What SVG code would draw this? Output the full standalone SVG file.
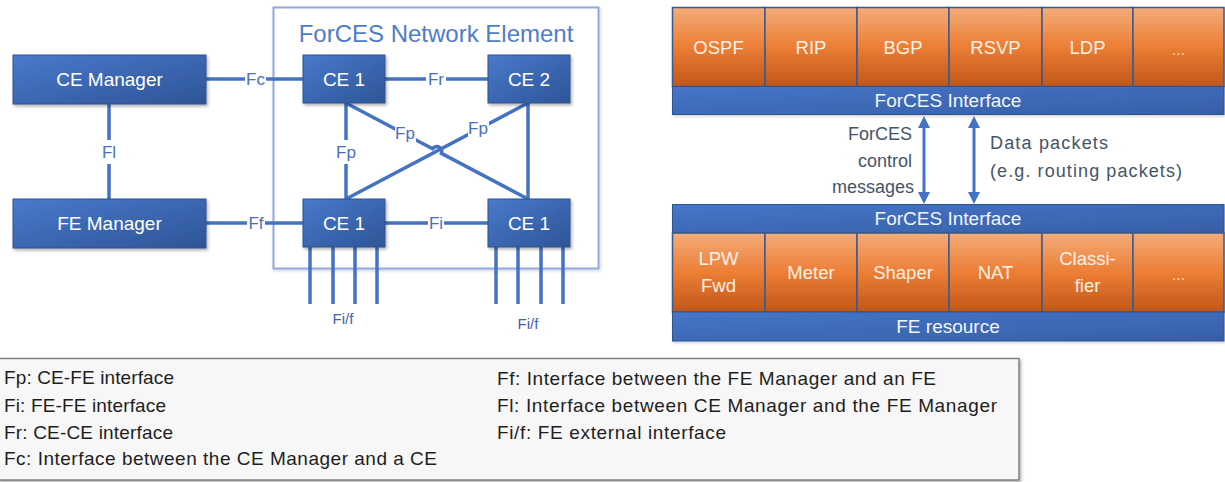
<svg xmlns="http://www.w3.org/2000/svg" width="1225" height="482" viewBox="0 0 1225 482">
  <defs>
    <linearGradient id="gBlue" x1="0" y1="0" x2="1" y2="1">
      <stop offset="0" stop-color="#4a79cb"/>
      <stop offset="1" stop-color="#2e5597"/>
    </linearGradient>
    <linearGradient id="gOrange" x1="0" y1="0" x2="0" y2="1">
      <stop offset="0" stop-color="#f4ac7b"/>
      <stop offset="0.5" stop-color="#ec7e34"/>
      <stop offset="1" stop-color="#c0561a"/>
    </linearGradient>
    <linearGradient id="gBar" x1="0" y1="0" x2="1" y2="1">
      <stop offset="0" stop-color="#4675c8"/>
      <stop offset="1" stop-color="#365fa6"/>
    </linearGradient>
    <filter id="shadow" x="-10%" y="-10%" width="130%" height="140%">
      <feDropShadow dx="1.5" dy="2" stdDeviation="1.5" flood-color="#000" flood-opacity="0.3"/>
    </filter>
    <filter id="softShadow" x="-5%" y="-5%" width="110%" height="115%">
      <feDropShadow dx="1" dy="1.5" stdDeviation="1.5" flood-color="#000" flood-opacity="0.18"/>
    </filter>
    <marker id="arr" viewBox="0 0 12 12" refX="3" refY="6" markerWidth="12" markerHeight="12" markerUnits="userSpaceOnUse" orient="auto-start-reverse">
      <path d="M0,0 L12,6 L0,12 z" fill="#4472c4"/>
    </marker>
  </defs>
  <style>
    text { font-family: "Liberation Sans", Arial, sans-serif; }
    .node rect { fill: url(#gBlue); stroke: #2f528f; stroke-width: 1; filter: url(#shadow); }
    .ntext { font-size: 19px; fill: #ffffff; text-anchor: middle; dominant-baseline: central; }
    .link { stroke: #4472c4; stroke-width: 3.5; fill: none; }
    .port { stroke: #4472c4; stroke-width: 3.5; }
    .lbl { font-size: 17px; fill: #4a6fc0; text-anchor: middle; dominant-baseline: central; }
    .lblbg { fill: #ffffff; }
    .small { font-size: 15px; fill: #3f63ad; text-anchor: middle; dominant-baseline: central; }
    .title { font-size: 24px; fill: #4f7cc8; text-anchor: middle; dominant-baseline: central; }
    .ora { fill: url(#gOrange); stroke: #3b5a8f; stroke-width: 1.5; }
    .bar { fill: url(#gBar); stroke: #2f528f; stroke-width: 1; }
    .otext { font-size: 18.5px; fill: #fdf1e7; text-anchor: middle; dominant-baseline: central; }
    .dots { font-size: 16px; fill: #f7d2b6; text-anchor: middle; dominant-baseline: central; }
    .btext { font-size: 19px; fill: #f2f5fb; text-anchor: middle; dominant-baseline: central; }
    .note { font-size: 18px; fill: #44546a; dominant-baseline: central; }
    .arrow { stroke: #4472c4; stroke-width: 3; marker-start: url(#arr); marker-end: url(#arr); }
    .legend { font-size: 19px; fill: #1e1e1e; dominant-baseline: central; }
  </style>

  <!-- ForCES network element container -->
  <g id="ne-container">
    <rect x="273.5" y="7.5" width="325" height="261" fill="#ffffff" stroke="#8faadc" stroke-width="2" filter="url(#softShadow)"/>
    <text class="title" x="436" y="33">ForCES Network Element</text>
  </g>

  <!-- connectors -->
  <g id="connectors">
    <line class="link" x1="109" y1="104" x2="109" y2="199"/>
    <line class="link" x1="206" y1="79" x2="303" y2="79"/>
    <line class="link" x1="206" y1="223" x2="303" y2="223"/>
    <line class="link" x1="385" y1="79" x2="488" y2="79"/>
    <line class="link" x1="385" y1="223" x2="488" y2="223"/>
    <line class="link" x1="346" y1="103" x2="346" y2="199"/>
    <line class="link" x1="528" y1="103" x2="528" y2="199"/>
    <line class="link" x1="528" y1="103" x2="346" y2="199"/>
    <path class="link" d="M346,103 L432.6,148.7 A5,5 0 0 1 441.4,153.3 L528,199"/>
    <!-- external FE ports -->
    <line class="port" x1="310" y1="247" x2="310" y2="304"/>
    <line class="port" x1="333" y1="247" x2="333" y2="304"/>
    <line class="port" x1="355" y1="247" x2="355" y2="304"/>
    <line class="port" x1="377" y1="247" x2="377" y2="304"/>
    <line class="port" x1="496" y1="247" x2="496" y2="304"/>
    <line class="port" x1="518" y1="247" x2="518" y2="304"/>
    <line class="port" x1="541" y1="247" x2="541" y2="304"/>
    <line class="port" x1="563" y1="247" x2="563" y2="304"/>

    <!-- interface labels -->
    <rect class="lblbg" x="99" y="140" width="20" height="24"/>
    <text class="lbl" x="109" y="152">Fl</text>
    <rect class="lblbg" x="245" y="70" width="21" height="18"/>
    <text class="lbl" x="255.5" y="79">Fc</text>
    <rect class="lblbg" x="247" y="214" width="18" height="18"/>
    <text class="lbl" x="256" y="223">Ff</text>
    <rect class="lblbg" x="426" y="70" width="20" height="18"/>
    <text class="lbl" x="436" y="79">Fr</text>
    <rect class="lblbg" x="428" y="214" width="16" height="18"/>
    <text class="lbl" x="436" y="223">Fi</text>
    <rect class="lblbg" x="335" y="140" width="22" height="24"/>
    <text class="lbl" x="346" y="152">Fp</text>
    <rect class="lblbg" x="395" y="124" width="21" height="18"/>
    <text class="lbl" x="405" y="133">Fp</text>
    <rect class="lblbg" x="468" y="119" width="21" height="18"/>
    <text class="lbl" x="478" y="128">Fp</text>
    <text class="small" x="343" y="318">Fi/f</text>
    <text class="small" x="528" y="323">Fi/f</text>
  </g>

  <!-- managers -->
  <g id="ce-manager" class="node">
    <rect x="13" y="55" width="193" height="49"/>
    <text class="ntext" x="109.5" y="79.5">CE Manager</text>
  </g>
  <g id="fe-manager" class="node">
    <rect x="13" y="199" width="193" height="49"/>
    <text class="ntext" x="109.5" y="223.5">FE Manager</text>
  </g>

  <!-- control and forwarding elements -->
  <g id="ce1-top" class="node">
    <rect x="303" y="55" width="82" height="48"/>
    <text class="ntext" x="344" y="79">CE 1</text>
  </g>
  <g id="ce2-top" class="node">
    <rect x="488" y="55" width="82" height="48"/>
    <text class="ntext" x="529" y="79">CE 2</text>
  </g>
  <g id="fe-left" class="node">
    <rect x="303" y="199" width="82" height="48"/>
    <text class="ntext" x="344" y="223">CE 1</text>
  </g>
  <g id="fe-right" class="node">
    <rect x="488" y="199" width="82" height="48"/>
    <text class="ntext" x="529" y="223">CE 1</text>
  </g>

  <!-- control element protocol stack -->
  <g id="ce-stack" filter="url(#softShadow)">
    <rect class="ora" x="672.5" y="7.5" width="92.5" height="79"/>
    <rect class="ora" x="765" y="7.5" width="92" height="79"/>
    <rect class="ora" x="857" y="7.5" width="92" height="79"/>
    <rect class="ora" x="949" y="7.5" width="93" height="79"/>
    <rect class="ora" x="1042" y="7.5" width="91" height="79"/>
    <rect class="ora" x="1133" y="7.5" width="91" height="79"/>
    <rect class="bar" x="672.5" y="86.5" width="551.5" height="28"/>
  </g>
  <g id="ce-stack-labels">
    <text class="otext" x="718.5" y="47">OSPF</text>
    <text class="otext" x="811" y="47">RIP</text>
    <text class="otext" x="903" y="47">BGP</text>
    <text class="otext" x="995.5" y="47">RSVP</text>
    <text class="otext" x="1087.5" y="47">LDP</text>
    <text class="dots" x="1178.5" y="49">...</text>
    <text class="btext" x="948" y="100.5">ForCES Interface</text>
  </g>

  <!-- messages between the stacks -->
  <g id="messages">
    <line class="arrow" x1="924" y1="125" x2="924" y2="195"/>
    <line class="arrow" x1="974" y1="125" x2="974" y2="195"/>
    <text class="note" x="912" y="134" text-anchor="end">ForCES</text>
    <text class="note" x="912" y="161" text-anchor="end">control</text>
    <text class="note" x="914" y="187" text-anchor="end">messages</text>
    <text class="note" x="990" y="143" textLength="118">Data packets</text>
    <text class="note" x="990" y="171" textLength="192">(e.g. routing packets)</text>
  </g>

  <!-- forwarding element resources -->
  <g id="fe-stack" filter="url(#softShadow)">
    <rect class="bar" x="672.5" y="204.5" width="551.5" height="28.5"/>
    <rect class="ora" x="672.5" y="233" width="92.5" height="79"/>
    <rect class="ora" x="765" y="233" width="92" height="79"/>
    <rect class="ora" x="857" y="233" width="92" height="79"/>
    <rect class="ora" x="949" y="233" width="93" height="79"/>
    <rect class="ora" x="1042" y="233" width="91" height="79"/>
    <rect class="ora" x="1133" y="233" width="91" height="79"/>
    <rect class="bar" x="672.5" y="312" width="551.5" height="29"/>
  </g>
  <g id="fe-stack-labels">
    <text class="btext" x="948" y="218.5">ForCES Interface</text>
    <text class="otext" x="718.5" y="258">LPW</text>
    <text class="otext" x="718.5" y="285">Fwd</text>
    <text class="otext" x="811" y="272">Meter</text>
    <text class="otext" x="903" y="272">Shaper</text>
    <text class="otext" x="995.5" y="272">NAT</text>
    <text class="otext" x="1087.5" y="258">Classi-</text>
    <text class="otext" x="1087.5" y="285">fier</text>
    <text class="dots" x="1178.5" y="274">...</text>
    <text class="btext" x="948" y="326.5">FE resource</text>
  </g>

  <!-- legend -->
  <g id="legend">
    <rect x="-2" y="358.5" width="1021" height="121.5" fill="#f7f7f7" stroke="#7f7f7f" stroke-width="1.5" filter="url(#shadow)"/>
    <text class="legend" x="4" y="377" textLength="170">Fp: CE-FE interface</text>
    <text class="legend" x="4" y="405" textLength="162">Fi: FE-FE interface</text>
    <text class="legend" x="4" y="432" textLength="169">Fr: CE-CE interface</text>
    <text class="legend" x="4" y="458" textLength="433">Fc: Interface between the CE Manager and a CE</text>
    <text class="legend" x="497" y="378" textLength="439">Ff: Interface between the FE Manager and an FE</text>
    <text class="legend" x="497" y="405" textLength="500">Fl: Interface between CE Manager and the FE Manager</text>
    <text class="legend" x="497" y="432" textLength="229">Fi/f: FE external interface</text>
  </g>
</svg>
